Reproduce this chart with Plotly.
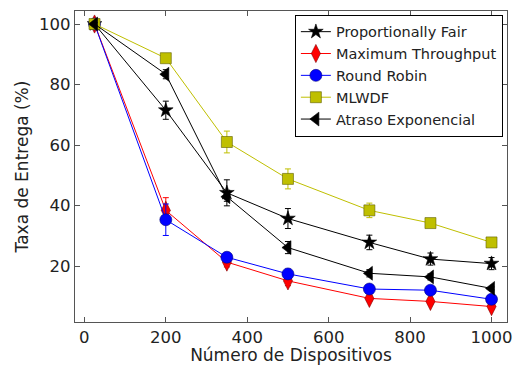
import plotly.graph_objects as go

x_vals = [25, 200, 350, 500, 700, 850, 1000]

pf = [100, 71.5, 44.2, 35.7, 27.8, 22.3, 20.8]
pf_err = [0.5, 3.0, 4.3, 3.3, 2.4, 2.0, 2.0]

mt = [100, 38.4, 21.3, 15.1, 9.3, 8.3, 6.6]
mt_err = [0.5, 4.2, 1.6, 1.6, 0.8, 0.8, 0.8]

rr = [100, 35.3, 22.9, 17.4, 12.4, 12.0, 9.0]
rr_err = [0.5, 5.2, 1.6, 1.6, 0.5, 0.5, 0.5]

mlwdf = [100, 88.7, 61.0, 48.8, 38.4, 34.2, 27.8]
mlwdf_err = [0.5, 1.0, 3.6, 3.3, 2.4, 1.0, 1.0]

atraso = [100, 83.4, 42.9, 26.1, 17.6, 16.4, 12.6]
atraso_err = [0.5, 1.5, 1.5, 2.0, 1.2, 1.0, 0.5]

series = [
    ("Proportionally Fair", pf, pf_err, "black", "star", 11, "black"),
    ("Maximum Throughput", mt, mt_err, "#ff0000", "diamond-tall", 13, "#800000"),
    ("Round Robin", rr, rr_err, "#0000ff", "circle", 12, "#000080"),
    ("MLWDF", mlwdf, mlwdf_err, "#bfbf00", "square", 11, "#606000"),
    ("Atraso Exponencial", atraso, atraso_err, "black", "triangle-left", 12, "black"),
]

fig = go.Figure()
for name, ys, errs, color, sym, size, edge in series:
    fig.add_trace(go.Scatter(
        x=x_vals, y=ys, name=name, mode="lines+markers",
        line=dict(color=color, width=1),
        marker=dict(symbol=sym, size=size, color=color,
                    line=dict(color=edge, width=0.6)),
        error_y=dict(type="data", array=errs, visible=True,
                     color=color, thickness=1, width=3),
    ))

axis_common = dict(
    showgrid=False, zeroline=False, showline=True, mirror="allticks",
    linecolor="#555555", linewidth=1.2, ticks="inside", ticklen=5,
    tickcolor="#555555", automargin=False,
    tickfont=dict(family="DejaVu Sans", size=16.5, color="#222222"),
)

fig.update_layout(
    width=517, height=365,
    margin=dict(l=75, r=10, t=11, b=43),
    plot_bgcolor="white", paper_bgcolor="white",
    font=dict(family="DejaVu Sans", color="#222222"),
    xaxis=dict(range=[-23, 1038], tickvals=[0, 200, 400, 600, 800, 1000],
               title=dict(text="Número de Dispositivos", font=dict(size=17), standoff=2),
               **axis_common),
    yaxis=dict(range=[1.5, 104.3], tickvals=[20, 40, 60, 80, 100],
               title=dict(text="Taxa de Entrega (%)", font=dict(size=17), standoff=6),
               **axis_common),
    legend=dict(x=0.509, y=0.988, xanchor="left", yanchor="top",
                bgcolor="white", bordercolor="black", borderwidth=1,
                font=dict(size=14.5, color="#222222"), tracegroupgap=0,
                itemwidth=30),
    showlegend=True,
)

fig.write_html("out.html", config={"displayModeBar": False},
               post_script="document.body.style.margin='0';document.body.style.overflow='hidden';")
